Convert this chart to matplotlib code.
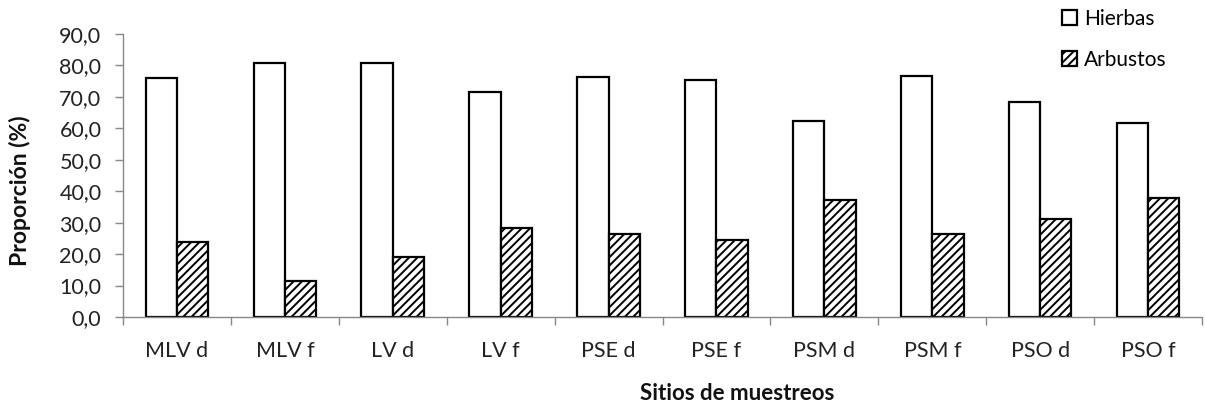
import numpy as np
import matplotlib
matplotlib.use("Agg")
import matplotlib.pyplot as plt
from matplotlib.ticker import FuncFormatter, FixedLocator

# datos
sitios = ["MLV d", "MLV f", "LV d", "LV f", "PSE d", "PSE f", "PSM d", "PSM f", "PSO d", "PSO f"]
hierbas = [76.0, 80.8, 80.8, 71.4, 76.4, 75.4, 62.4, 76.5, 68.3, 61.7]
arbustos = [23.8, 11.6, 19.0, 28.3, 26.5, 24.5, 37.3, 26.5, 31.1, 38.0]

plt.rcParams['font.family'] = ['Lato', 'DejaVu Sans']
plt.rcParams['hatch.linewidth'] = 1.4

W, H = 1205, 409
fig = plt.figure(figsize=(W / 100, H / 100), dpi=100)
ax = fig.add_axes([123 / W, 1 - 317 / H, (1202 - 123) / W, (317 - 34) / H])

x = np.arange(len(sitios))
w = 0.29
ax.bar(x - w/2, hierbas, w, color='white', edgecolor='black', linewidth=1.6, label='Hierbas')
ax.bar(x + w/2, arbustos, w, color='white', edgecolor='black', linewidth=1.6, hatch='////', label='Arbustos')

ax.set_xlim(-0.5, len(sitios) - 0.5)
ax.set_ylim(0, 90)
ax.set_yticks(np.arange(0, 91, 10))
ax.yaxis.set_major_formatter(FuncFormatter(lambda v, p: f"{v:.1f}".replace('.', ',')))

# etiquetas en el centro, marcas entre categorias
ax.set_xticks(x)
ax.set_xticklabels(sitios)
ax.xaxis.set_minor_locator(FixedLocator(np.arange(-0.5, len(sitios), 1.0)))
ax.tick_params(axis='x', which='major', length=0, pad=17, labelsize=15.5, colors='#222222')
ax.tick_params(axis='x', which='minor', length=6, color='#888888', width=1)
ax.tick_params(axis='y', length=5.5, color='#888888', width=1, labelsize=15.5, labelcolor='#222222', pad=10)

for s in ['top', 'right']:
    ax.spines[s].set_visible(False)
for s in ['left', 'bottom']:
    ax.spines[s].set_color('#888888')
    ax.spines[s].set_linewidth(1)

# titulos de ejes (posicion como en el original)
fig.text(20 / W, 1 - 191 / H, "Proporción (%)", rotation=90, ha='center', va='center',
         fontsize=16.5, fontweight='bold', color='#111111')
fig.text(737 / W, 1 - 394 / H, "Sitios de muestreos", ha='center', va='center',
         fontsize=16, fontweight='bold', color='#111111')

ax.legend(loc='upper left', bbox_to_anchor=(1062 / W, 1 - 9 / H), bbox_transform=fig.transFigure,
          frameon=False, fontsize=15, handlelength=0.72, handleheight=0.72,
          handletextpad=0.35, labelspacing=1.0, borderpad=0, borderaxespad=0)

fig.savefig("out.png", dpi=100)
